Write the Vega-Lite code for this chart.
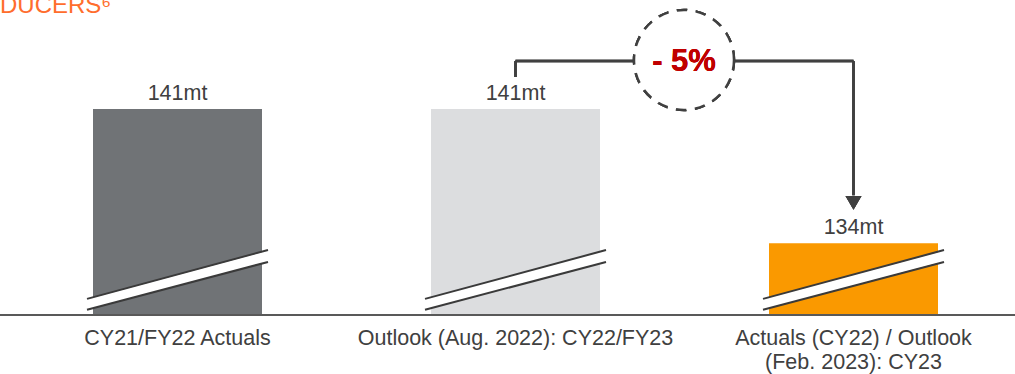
{
  "$schema": "https://vega.github.io/schema/vega-lite/v6.json",
  "autosize": {"type": "none"},
  "width": 1015,
  "height": 315,
  "padding": {"left": 0, "top": 0, "right": 0, "bottom": 59},
  "background": "white",
  "config": {"font": "Liberation Sans", "view": {"stroke": null}},
  "title": {
    "text": "DUCERS⁶",
    "anchor": "start",
    "frame": "group",
    "orient": "top",
    "offset": 0,
    "baseline": "alphabetic",
    "dy": 37,
    "dx": 0,
    "fontSize": 24,
    "fontWeight": "normal",
    "font": "Liberation Sans",
    "color": "#ff6d2d"
  },
  "data": {
    "values": [
      {"cat": "CY21/FY22 Actuals", "label": "CY21/FY22 Actuals", "mt": 141},
      {"cat": "Outlook (Aug. 2022): CY22/FY23", "label": "Outlook (Aug. 2022): CY22/FY23", "mt": 141},
      {"cat": "Actuals (CY22) / Outlook (Feb. 2023): CY23", "label": "Actuals (CY22) / Outlook\n(Feb. 2023): CY23", "mt": 134}
    ]
  },
  "transform": [{"calculate": "datum.mt + 'mt'", "as": "mt_text"}],
  "layer": [
    {
      "mark": {"type": "bar"},
      "encoding": {
        "x": {"field": "cat", "type": "nominal", "sort": null, "axis": null,
              "scale": {"range": [8.5, 1022.5], "paddingInner": 0.5, "paddingOuter": 0.25}},
        "y": {"field": "mt", "type": "quantitative", "axis": null,
              "scale": {"domain": [130.25, 146.69], "zero": false, "nice": false}},
        "y2": {"datum": 130.25},
        "color": {"field": "cat", "type": "nominal", "sort": null, "legend": null,
                  "scale": {"range": ["#707376", "#dcdddf", "#fa9900"]}}
      }
    },
    {
      "mark": {"type": "rule", "color": "white", "strokeWidth": 10.5, "strokeCap": "butt", "xOffset": -90.5, "x2Offset": 90.5},
      "encoding": {
        "x": {"field": "cat", "type": "nominal", "sort": null},
        "x2": {"field": "cat"},
        "y": {"datum": 130.80},
        "y2": {"datum": 133.33}
      }
    },
    {
      "mark": {"type": "rule", "color": "#3a3a3a", "strokeWidth": 2, "strokeCap": "butt", "xOffset": -90.5, "x2Offset": 90.5},
      "encoding": {
        "x": {"field": "cat", "type": "nominal", "sort": null},
        "x2": {"field": "cat"},
        "y": {"datum": 131.09},
        "y2": {"datum": 133.64}
      }
    },
    {
      "mark": {"type": "rule", "color": "#3a3a3a", "strokeWidth": 2, "strokeCap": "butt", "xOffset": -90.5, "x2Offset": 90.5},
      "encoding": {
        "x": {"field": "cat", "type": "nominal", "sort": null},
        "x2": {"field": "cat"},
        "y": {"datum": 130.52},
        "y2": {"datum": 133.02}
      }
    },
    {
      "mark": {"type": "rule", "color": "#595959", "strokeWidth": 2},
      "encoding": {"y": {"datum": 130.25}}
    },
    {
      "mark": {"type": "text", "dy": -9, "baseline": "alphabetic", "fontSize": 21.5, "color": "#404040"},
      "encoding": {
        "x": {"field": "cat", "type": "nominal", "sort": null},
        "y": {"field": "mt", "type": "quantitative"},
        "text": {"field": "mt_text"}
      }
    },
    {
      "mark": {"type": "text", "dy": 30, "baseline": "alphabetic", "fontSize": 21.5, "color": "#404040", "lineBreak": "\n", "lineHeight": 24},
      "encoding": {
        "x": {"field": "cat", "type": "nominal", "sort": null},
        "y": {"datum": 130.25},
        "text": {"field": "label"}
      }
    },
    {
      "mark": {"type": "rule", "color": "#404040", "strokeWidth": 2.5},
      "encoding": {
        "x": {"datum": "Outlook (Aug. 2022): CY22/FY23"},
        "y": {"datum": 142.67},
        "y2": {"datum": 143.5}
      }
    },
    {
      "mark": {"type": "rule", "color": "#404040", "strokeWidth": 2.5},
      "encoding": {
        "x": {"datum": "Outlook (Aug. 2022): CY22/FY23"},
        "x2": {"datum": "Actuals (CY22) / Outlook (Feb. 2023): CY23"},
        "y": {"datum": 143.5}
      }
    },
    {
      "mark": {"type": "rule", "color": "#404040", "strokeWidth": 2.5},
      "encoding": {
        "x": {"datum": "Actuals (CY22) / Outlook (Feb. 2023): CY23"},
        "y": {"datum": 143.5},
        "y2": {"datum": 136.5}
      }
    },
    {
      "mark": {"type": "point", "shape": "triangle-down", "size": 256, "filled": true, "color": "#404040", "opacity": 1},
      "encoding": {
        "x": {"datum": "Actuals (CY22) / Outlook (Feb. 2023): CY23"},
        "y": {"datum": 136.1}
      }
    },
    {
      "mark": {"type": "point", "shape": "circle", "size": 10000, "fill": "white", "stroke": "#404040", "strokeWidth": 2.5, "strokeDash": [10.5, 8.5], "opacity": 1, "fillOpacity": 1, "xOffset": 168.5},
      "encoding": {
        "x": {"datum": "Outlook (Aug. 2022): CY22/FY23"},
        "y": {"datum": 143.56}
      }
    },
    {
      "mark": {"type": "text", "baseline": "middle", "align": "center", "fontSize": 31, "fontWeight": "bold", "color": "#c00000", "xOffset": 168.5},
      "encoding": {
        "x": {"datum": "Outlook (Aug. 2022): CY22/FY23"},
        "y": {"datum": 143.45},
        "text": {"value": "- 5%"}
      }
    }
  ]
}
